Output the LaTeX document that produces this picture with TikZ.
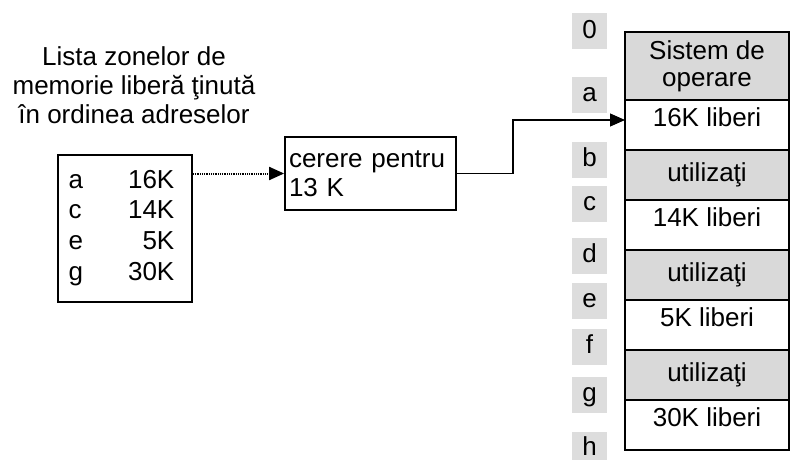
\documentclass[tikz,border=0pt]{standalone}
\usepackage{fontspec}
\setmainfont{Liberation Sans}
\usetikzlibrary{positioning,arrows.meta}
\definecolor{cellgray}{RGB}{217,217,217}
\definecolor{tabgray}{RGB}{221,221,221}

\begin{document}
\begin{tikzpicture}[x=1pt, y=-1pt, font=\fontsize{26}{29}\selectfont]
    \tikzstyle{block} = [rectangle, draw, line width=1.8pt, minimum width=164pt, minimum height=50pt, inner sep=0pt, outer sep=0pt]
    \tikzstyle{used} = [block, fill=cellgray]
    \tikzstyle{free} = [block, fill=white, text depth=15pt]
    \tikzstyle{addr} = [rectangle, fill=tabgray, minimum width=35pt, minimum height=36pt, inner sep=0pt, text height=18pt, text depth=5pt]
    \tikzstyle{box} = [rectangle, draw, line width=1.8pt, inner sep=0pt]
    \tikzstyle{link} = [line width=1.2pt, -{Triangle[length=15pt,width=13pt]}]

    \useasboundingbox (0,0) rectangle (791,460);
    \clip (0,0) rectangle (791,460);

    % Free list
    \node [anchor=north, align=center, inner sep=0pt] (heading) at (134,46) {Lista zonelor de\\memorie liberă ţinută\\în ordinea adreselor};
    \node [box, minimum width=134pt, minimum height=147pt] (freelist) at (125,228.5) {%
        \begin{tabular}{@{}l@{\hspace{45pt}}r@{\hspace{7pt}}}
        a & 16K\\[1.7pt]
        c & 14K\\[1.7pt]
        e & 5K\\[1.7pt]
        g & 30K
        \end{tabular}};

    % Request
    \node [box, minimum width=171pt, minimum height=73pt, text width=163pt, align=left] (request) at (370.5,173.5) {cerere pentru\\13 K};

    % Memory blocks
    \node [used, minimum height=68pt, align=center, font=\fontsize{26}{27}\selectfont] (os) at (707,66) {Sistem de\\operare};
    \node [free, below=0pt of os] (free16) {16K liberi};
    \node [used, below=0pt of free16] (used1) {utilizaţi};
    \node [free, below=0pt of used1] (free14) {14K liberi};
    \node [used, below=0pt of free14] (used2) {utilizaţi};
    \node [free, below=0pt of used2] (free5) {5K liberi};
    \node [used, below=0pt of free5] (used3) {utilizaţi};
    \node [free, below=0pt of used3] (free30) {30K liberi};

    % Addresses
    \foreach \name/\ypos in {0/31.5, a/94.5, b/160, c/204, d/256, e/301, f/347, g/395}
        \node [addr] (addr\name) at (589.5,\ypos) {\name};
    \node [addr, minimum height=28pt, text depth=0pt] (addrh) at (589.5,446) {h};

    % Arrows
    \draw [link, line width=2pt, dash pattern=on 1pt off 0.8pt] (freelist.east |- request.west) -- (request.west);
    \draw [link] (request.east) -- ++(56,0) |- ([yshift=5pt]free16.west);
\end{tikzpicture}
\end{document}
